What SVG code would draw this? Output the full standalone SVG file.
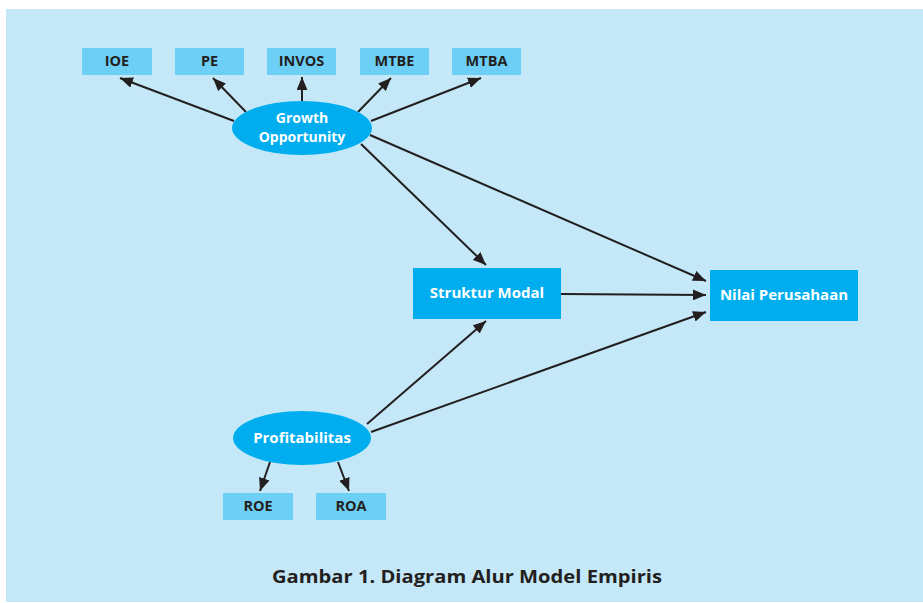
<svg xmlns="http://www.w3.org/2000/svg" width="923" height="603" viewBox="0 0 923 603">
<defs>
<marker id="ah" viewBox="0 0 12 10" refX="12" refY="5" markerWidth="13" markerHeight="11" markerUnits="userSpaceOnUse" orient="auto">
<path d="M0,0 L12,5 L0,10 Z" fill="#231F20"/>
</marker>
</defs>
<style>
text{font-family:"Open Sans","Liberation Sans",sans-serif;font-weight:bold;text-anchor:middle;dominant-baseline:central}
.ind rect{fill:#6DCFF6}
.ind text{fill:#231F20;font-size:14.5px}
.main{fill:#00AEEF}
.wt{fill:#fff;font-size:15px}
.go{fill:#fff;font-size:14px}
.con line{stroke:#231F20;stroke-width:2;marker-end:url(#ah)}
</style>
<rect x="6" y="9" width="917" height="593" fill="#C5E8F9"/>
<g class="con" id="connectors">
<line x1="234" y1="121" x2="120" y2="78"/>
<line x1="246" y1="112" x2="213" y2="78"/>
<line x1="302" y1="101" x2="302" y2="77"/>
<line x1="358" y1="112" x2="391" y2="78"/>
<line x1="371" y1="121" x2="481" y2="78"/>
<line x1="361" y1="144" x2="486" y2="265"/>
<line x1="370" y1="135" x2="706" y2="281"/>
<line x1="561" y1="294" x2="706" y2="295"/>
<line x1="367" y1="424" x2="486" y2="321"/>
<line x1="371" y1="432" x2="706" y2="312"/>
<line x1="270" y1="462" x2="260" y2="491"/>
<line x1="338" y1="462" x2="349" y2="491"/>
</g>
<g class="ind" id="ioe"><rect x="82" y="48" width="70" height="27"/><text x="117" y="60">IOE</text></g>
<g class="ind" id="pe"><rect x="175" y="48" width="69" height="27"/><text x="209.5" y="60">PE</text></g>
<g class="ind" id="invos"><rect x="267" y="48" width="69" height="27"/><text x="301.5" y="60">INVOS</text></g>
<g class="ind" id="mtbe"><rect x="360" y="48" width="69" height="27"/><text x="394.5" y="60">MTBE</text></g>
<g class="ind" id="mtba"><rect x="452" y="48" width="69" height="27"/><text x="486.5" y="60">MTBA</text></g>
<g id="growth"><ellipse class="main" cx="302" cy="128" rx="70" ry="27"/><text class="go"><tspan x="302" y="117">Growth</tspan><tspan x="302" y="136">Opportunity</tspan></text></g>
<g id="struktur"><rect class="main" x="413" y="268" width="148" height="51"/><text class="wt" x="487" y="292">Struktur Modal</text></g>
<g id="nilai"><rect class="main" x="710" y="270" width="148" height="51"/><text class="wt" x="784" y="294">Nilai Perusahaan</text></g>
<g id="profit"><ellipse class="main" cx="302" cy="438" rx="69" ry="27"/><text class="wt" x="302" y="437">Profitabilitas</text></g>
<g class="ind" id="roe"><rect x="223" y="493" width="70" height="27"/><text x="258" y="505">ROE</text></g>
<g class="ind" id="roa"><rect x="316" y="493" width="70" height="27"/><text x="351" y="505">ROA</text></g>
<text x="467" y="576" font-size="17" fill="#231F20" textLength="390" lengthAdjust="spacingAndGlyphs">Gambar 1. Diagram Alur Model Empiris</text>
</svg>
